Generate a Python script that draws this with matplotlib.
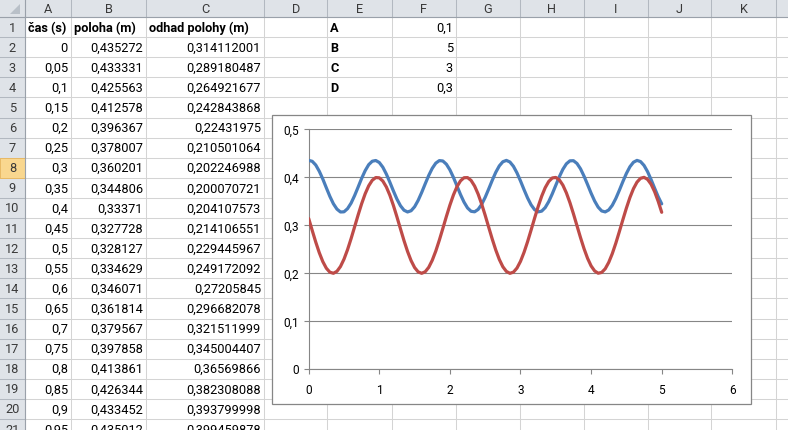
import matplotlib
matplotlib.use('Agg')
import matplotlib.pyplot as plt
from matplotlib.patches import Rectangle, Polygon
from matplotlib.ticker import FuncFormatter

# data from the sheet (column A, B, C) -- rows beyond 21
cas = [0, 0.05, 0.1, 0.15, 0.2, 0.25, 0.3, 0.35, 0.4, 0.45,
       0.5, 0.55, 0.6, 0.65, 0.7, 0.75, 0.8, 0.85, 0.9, 0.95,
       1.0, 1.05, 1.1, 1.15, 1.2, 1.25, 1.3, 1.35, 1.4, 1.45,
       1.5, 1.55, 1.6, 1.65, 1.7, 1.75, 1.8, 1.85, 1.9, 1.95,
       2.0, 2.05, 2.1, 2.15, 2.2, 2.25, 2.3, 2.35, 2.4, 2.45,
       2.5, 2.55, 2.6, 2.65, 2.7, 2.75, 2.8, 2.85, 2.9, 2.95,
       3.0, 3.05, 3.1, 3.15, 3.2, 3.25, 3.3, 3.35, 3.4, 3.45,
       3.5, 3.55, 3.6, 3.65, 3.7, 3.75, 3.8, 3.85, 3.9, 3.95,
       4.0, 4.05, 4.1, 4.15, 4.2, 4.25, 4.3, 4.35, 4.4, 4.45,
       4.5, 4.55, 4.6, 4.65, 4.7, 4.75, 4.8, 4.85, 4.9, 4.95,
       5.0]

poloha = [0.435272, 0.433331, 0.425563, 0.412578, 0.396367, 0.378007, 0.360201, 0.344806, 0.33371, 0.327728,
          0.328127, 0.334629, 0.346071, 0.361814, 0.379567, 0.397858, 0.413861, 0.426344, 0.433452, 0.435012,
          0.4308, 0.4210, 0.4067, 0.3896, 0.3715, 0.3545, 0.3407, 0.3314, 0.3278, 0.3303,
          0.3386, 0.3518, 0.3683, 0.3863, 0.4038, 0.4187, 0.4295, 0.4348, 0.4340, 0.4273,
          0.4155, 0.3998, 0.3820, 0.3641, 0.3483, 0.3361, 0.3292, 0.3281, 0.3331, 0.3436,
          0.3584, 0.3758, 0.3938, 0.4105, 0.4238, 0.4324, 0.4352, 0.4319, 0.4229, 0.4092,
          0.3924, 0.3743, 0.3571, 0.3426, 0.3325, 0.3280, 0.3295, 0.3369, 0.3494, 0.3655,
          0.3834, 0.4011, 0.4166, 0.4281, 0.4343, 0.4346, 0.4288, 0.4177, 0.4024, 0.3849,
          0.3669, 0.3506, 0.3378, 0.3299, 0.3279, 0.3320, 0.3416, 0.3558, 0.3729, 0.3910,
          0.4080, 0.4220, 0.4314, 0.4352, 0.4328, 0.4247, 0.4117, 0.3952, 0.3772, 0.3597,
          0.3447]

odhad = [0.314112001, 0.289180487, 0.264921677, 0.242843868, 0.22431975, 0.210501064, 0.202246988, 0.200070721, 0.204107573, 0.214106551,
         0.229445967, 0.249172092, 0.27205845, 0.296682078, 0.321511999, 0.345004407, 0.36569866, 0.382308088, 0.393799998, 0.399459878,
         0.3989, 0.3922, 0.3798, 0.3625, 0.3412, 0.3174, 0.2925, 0.2680, 0.2456, 0.2265,
         0.2120, 0.2030, 0.2000, 0.2032, 0.2124, 0.2271, 0.2463, 0.2689, 0.2934, 0.3183,
         0.3420, 0.3632, 0.3804, 0.3926, 0.3991, 0.3994, 0.3935, 0.3818, 0.3650, 0.3442,
         0.3207, 0.2958, 0.2712, 0.2484, 0.2288, 0.2136, 0.2039, 0.2000, 0.2024, 0.2109,
         0.2249, 0.2436, 0.2657, 0.2901, 0.3150, 0.3390, 0.3606, 0.3784, 0.3913, 0.3986,
         0.3997, 0.3946, 0.3837, 0.3675, 0.3472, 0.3239, 0.2991, 0.2744, 0.2513, 0.2312,
         0.2154, 0.2049, 0.2002, 0.2018, 0.2094, 0.2228, 0.2409, 0.2627, 0.2868, 0.3117,
         0.3359, 0.3579, 0.3763, 0.3899, 0.3979, 0.3999, 0.3956, 0.3855, 0.3699, 0.3501,
         0.3271]

headers = ['čas (s)', 'poloha (m)', 'odhad polohy (m)']
param_names = ['A', 'B', 'C', 'D']
param_values = [0.1, 5, 3, 0.3]
col_letters = ['A', 'B', 'C', 'D', 'E', 'F', 'G', 'H', 'I', 'J', 'K', '']
n_rows_shown = 21
active_row = 8

W, H = 788, 430
FONT = 'Roboto'
FS = 9.2

# sheet geometry (pixels)
col_edges = [0, 25, 71, 146, 264, 327.3, 391.7, 455.7, 519.7, 583.7, 647.7, 711.5, 775.7, 840]
head_h = 17
row_h = 20.1


def excel_fmt(v):
    s = f'{v:.9f}'.rstrip('0').rstrip('.')
    return s.replace('.', ',')


def row_top(r):
    return head_h + (r - 1) * row_h


fig = plt.figure(figsize=(W / 100, H / 100), dpi=100)
bg = fig.add_axes([0, 0, 1, 1])
bg.set_xlim(0, W)
bg.set_ylim(H, 0)
bg.axis('off')

grid_c = '#d4d4d4'
head_bg = '#dfe3e8'
head_line = '#b2b8c0'

# header strips
bg.add_patch(Rectangle((0, 0), W, head_h, facecolor=head_bg, edgecolor='none', zorder=1))
bg.add_patch(Rectangle((0, 0), col_edges[1], H, facecolor=head_bg, edgecolor='none', zorder=1))
bg.add_patch(Rectangle((0, row_top(active_row)), col_edges[1], row_h, facecolor='#f9d78f',
                       edgecolor='#e8b964', lw=0.7, zorder=2))
bg.add_patch(Polygon([[20, 4], [20, 14], [10, 14]], closed=True, facecolor='#b9c0c8',
                     edgecolor='none', zorder=2))

# grid lines
for x in col_edges[1:]:
    bg.plot([x, x], [head_h, H], color=grid_c, lw=0.75, zorder=1.5)
    bg.plot([x, x], [0, head_h], color=head_line, lw=0.75, zorder=1.5)
for r in range(1, n_rows_shown + 2):
    y = row_top(r)
    bg.plot([col_edges[1], W], [y, y], color=grid_c, lw=0.75, zorder=1.5)
    bg.plot([0, col_edges[1]], [y, y], color=head_line, lw=0.75, zorder=1.5)
bg.plot([0, W], [head_h, head_h], color='#9aa1aa', lw=0.8, zorder=3)
bg.plot([col_edges[1], col_edges[1]], [0, H], color='#9aa1aa', lw=0.8, zorder=3)

# column letters and row numbers
for i, letter in enumerate(col_letters):
    xc = (col_edges[i + 1] + col_edges[i + 2]) / 2
    bg.text(xc, head_h / 2 + 1, letter, ha='center', va='center', fontsize=FS,
            family=FONT, color='#3a3a3a', zorder=4)
for r in range(1, n_rows_shown + 1):
    bg.text(col_edges[1] / 2, row_top(r) + row_h / 2 + 1, str(r), ha='center', va='center',
            fontsize=FS, family=FONT, color='#3a3a3a', zorder=4)

# header row
for i, h in enumerate(headers):
    bg.text(col_edges[i + 1] + 3, row_top(1) + row_h / 2 + 1, h, ha='left', va='center',
            fontsize=FS, family=FONT, fontweight='bold', zorder=4)

# data cells
cols = [cas, poloha, odhad]
for k in range(n_rows_shown - 1):
    yc = row_top(k + 2) + row_h / 2 + 1
    for i, c in enumerate(cols):
        bg.text(col_edges[i + 2] - 3, yc, excel_fmt(c[k]), ha='right', va='center',
                fontsize=FS, family=FONT, zorder=4)

# parameters E1:F4
for k, (nm, v) in enumerate(zip(param_names, param_values)):
    yc = row_top(k + 1) + row_h / 2 + 1
    bg.text(col_edges[5] + 3, yc, nm, ha='left', va='center', fontsize=FS,
            family=FONT, fontweight='bold', zorder=4)
    bg.text(col_edges[7] - 3, yc, excel_fmt(v), ha='right', va='center', fontsize=FS,
            family=FONT, zorder=4)

# chart frame
bg.add_patch(Rectangle((272, 115), 751 - 272, 404 - 115, facecolor='white',
                       edgecolor='#868686', lw=0.9, zorder=10))

# chart plot area
x0, x1, y0, y1 = 308.7, 732.3, 369.3, 129.3
ax = fig.add_axes([x0 / W, 1 - y0 / H, (x1 - x0) / W, (y0 - y1) / H])
ax.patch.set_alpha(0)
ax.plot(cas, poloha, color='#4a7ebb', lw=2.3, solid_capstyle='round', zorder=3)
ax.plot(cas, odhad, color='#be4b48', lw=2.3, solid_capstyle='round', zorder=4)
ax.set_xlim(0, 6)
ax.set_ylim(0, 0.5)
ax.set_xticks([0, 1, 2, 3, 4, 5, 6])
ax.set_yticks([0, 0.1, 0.2, 0.3, 0.4, 0.5])
fmt = FuncFormatter(lambda v, p: excel_fmt(round(v, 2)))
ax.xaxis.set_major_formatter(fmt)
ax.yaxis.set_major_formatter(fmt)
ax.grid(axis='y', color='#868686', lw=0.8)
ax.set_axisbelow(True)
for s in ['top', 'right']:
    ax.spines[s].set_visible(False)
for s in ['left', 'bottom']:
    ax.spines[s].set_color('#868686')
    ax.spines[s].set_linewidth(0.8)
ax.tick_params(axis='both', direction='out', length=3.8, width=0.8, color='#868686',
               labelsize=8.6)
ax.tick_params(axis='x', pad=7)
ax.tick_params(axis='y', pad=3)
for lab in ax.get_xticklabels() + ax.get_yticklabels():
    lab.set_family(FONT)

fig.savefig('out.png', dpi=100)
